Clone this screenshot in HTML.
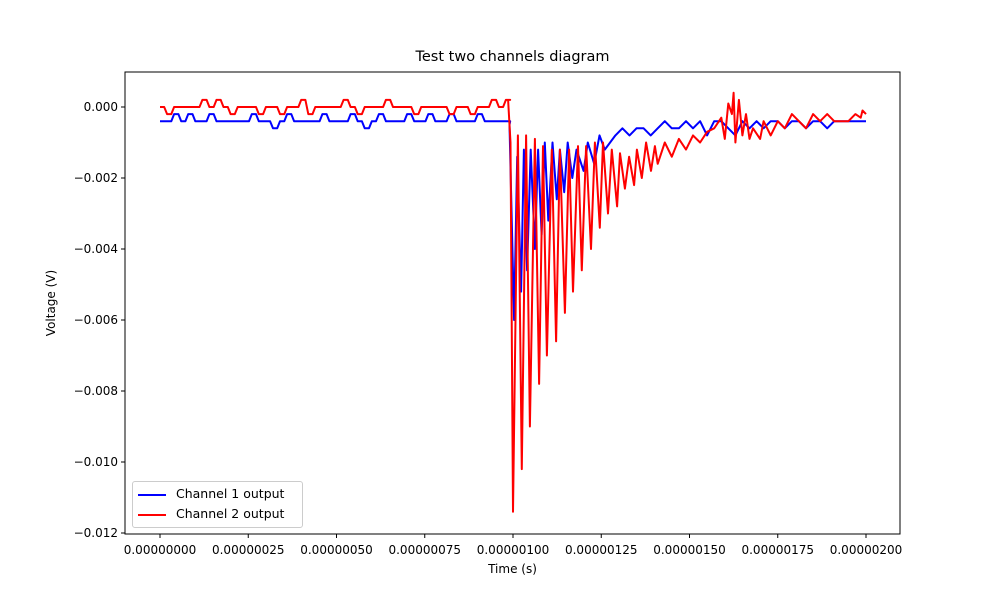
<!DOCTYPE html>
<html><head><meta charset="utf-8"><style>
body{margin:0;background:#fff;}
svg{display:block;font-family:"DejaVu Sans","Liberation Sans",sans-serif;}
</style></head><body>
<svg id="chart" width="1000" height="600"></svg>
<script>
const xTicks=[0,0.25,0.5,0.75,1.0,1.25,1.5,1.75,2.0];
const xTickLabels=["0.00000000","0.00000025","0.00000050","0.00000075","0.00000100","0.00000125","0.00000150","0.00000175","0.00000200"];
const yTicks=[0,-2,-4,-6,-8,-10,-12];
const yTickLabels=["0.000","\u22120.002","\u22120.004","\u22120.006","\u22120.008","\u22120.010","\u22120.012"];
// times in microseconds, values in millivolts
const bluePre=[-0.4,-0.4,-0.2,-0.4,-0.2,-0.4,-0.4,-0.2,-0.4,-0.4,-0.4,-0.4,-0.4,-0.2,-0.4,-0.4,-0.6,-0.4,-0.2,-0.4,-0.4,-0.4,-0.4,-0.2,-0.4,-0.4,-0.4,-0.2,-0.4,-0.6,-0.4,-0.2,-0.4,-0.4,-0.4,-0.2,-0.4,-0.4,-0.2,-0.4,-0.4,-0.2,-0.4,-0.4,-0.4,-0.2,-0.4,-0.4,-0.4,-0.4];
const redPre=[0,-0.2,0,0,0,0,0.2,0,0.2,0,-0.2,0,0,0,-0.2,0,0,-0.2,0,0,0.2,-0.2,0,0,0,0,0.2,0,-0.2,0,0,0,0.2,0,0,0,-0.2,0,0,0,0,-0.2,0,0,-0.2,0,0,0.2,0,0.2];
const blueEventT=[0.99,1.003,1.012,1.023,1.031,1.040,1.050,1.062,1.071,1.081,1.090,1.100,1.112,1.124,1.133,1.145,1.155,1.168,1.180,1.200,1.212,1.230,1.245,1.260,1.275,1.290,1.31,1.33,1.35,1.37,1.39,1.41,1.43,1.45,1.47,1.49,1.51,1.53,1.55,1.57,1.59,1.61,1.63,1.65,1.67,1.69,1.71,1.73,1.75,1.77,1.79,1.81,1.83,1.85,1.87,1.89,1.91,1.93,1.95,1.97,1.99,2.0];
const blueEventV=[-0.5,-6.0,-1.4,-5.2,-1.2,-4.6,-1.2,-4.0,-1.2,-3.6,-1.0,-3.2,-1.0,-2.6,-1.2,-2.4,-1.0,-2.0,-1.2,-1.8,-1.0,-1.6,-0.8,-1.2,-1.0,-0.8,-0.6,-0.8,-0.6,-0.6,-0.8,-0.6,-0.4,-0.6,-0.6,-0.4,-0.6,-0.4,-0.8,-0.4,-0.4,-0.6,-0.8,-0.4,-0.6,-0.4,-0.6,-0.4,-0.4,-0.6,-0.4,-0.4,-0.6,-0.4,-0.4,-0.6,-0.4,-0.4,-0.4,-0.4,-0.4,-0.4];
const redEventT=[0.986,0.993,1.0,1.014,1.025,1.037,1.048,1.062,1.074,1.085,1.096,1.110,1.122,1.133,1.147,1.159,1.170,1.184,1.195,1.207,1.221,1.232,1.246,1.255,1.269,1.280,1.295,1.303,1.317,1.329,1.343,1.351,1.365,1.377,1.391,1.402,1.41,1.43,1.45,1.47,1.49,1.51,1.53,1.55,1.57,1.59,1.60,1.61,1.62,1.625,1.63,1.64,1.65,1.66,1.67,1.68,1.70,1.71,1.73,1.75,1.77,1.79,1.81,1.83,1.85,1.87,1.89,1.91,1.93,1.95,1.97,1.985,1.99,2.0];
const redEventV=[0.2,-1.0,-11.4,-0.8,-10.2,-0.8,-9.0,-0.9,-7.8,-1.1,-7.0,-1.2,-6.6,-1.2,-5.8,-1.2,-5.2,-1.1,-4.6,-1.1,-4.0,-1.0,-3.4,-1.0,-3.0,-1.2,-2.8,-1.3,-2.3,-1.4,-2.2,-1.2,-2.0,-1.0,-1.8,-1.1,-1.6,-1.0,-1.4,-0.9,-1.2,-0.8,-1.0,-0.7,-0.6,-0.3,-0.9,0.1,-0.2,0.4,-1.0,0.2,-0.8,-0.2,-0.9,-0.6,-0.9,-0.4,-0.8,-0.4,-0.6,-0.2,-0.4,-0.6,-0.2,-0.4,-0.2,-0.4,-0.4,-0.4,-0.2,-0.3,-0.1,-0.2];

const X=t=>160+t*353;
const Y=v=>107-v*35.5;
const NS="http://www.w3.org/2000/svg";
const svg=document.getElementById('chart');
function mk(tag,attrs,parent){const e=document.createElementNS(NS,tag);for(const k in attrs)e.setAttribute(k,attrs[k]);(parent||svg).appendChild(e);return e;}

const clip=mk('clipPath',{id:'clp'});mk('rect',{x:125,y:72,width:775,height:462},clip);

function series(pre,evT,evV,color,name){
  const pts=[];
  pre.forEach((v,i)=>{
    pts.push(X(i*0.02).toFixed(1)+','+Y(v).toFixed(1));
    pts.push(X(i*0.02+0.012).toFixed(1)+','+Y(v).toFixed(1));
  });
  evT.forEach((t,i)=>pts.push(X(t).toFixed(1)+','+Y(evV[i]).toFixed(1)));
  const p=mk('polyline',{points:pts.join(' '),fill:'none',stroke:color,'stroke-width':2,'stroke-linejoin':'round','clip-path':'url(#clp)'});
  
  
}
series(bluePre,blueEventT,blueEventV,'#0000ff','channel-1-line');
series(redPre,redEventT,redEventV,'#ff0000','channel-2-line');

const frame=mk('rect',{x:125,y:72,width:775,height:462,fill:'none',stroke:'#000','stroke-width':1});



xTicks.forEach((t,i)=>{
  mk('line',{x1:X(t),x2:X(t),y1:534,y2:538,stroke:'#000'});
  const tx=mk('text',{x:X(t),y:554,'font-size':12,'text-anchor':'middle',fill:'#000'});
  tx.textContent=xTickLabels[i];
  
  
});
yTicks.forEach((v,i)=>{
  mk('line',{x1:121,x2:125,y1:Y(v),y2:Y(v),stroke:'#000'});
  const tx=mk('text',{x:118,y:Y(v)+4,'font-size':12,'text-anchor':'end',fill:'#000'});
  tx.textContent=yTickLabels[i];
  
  
});
</script>
<div style="position:absolute;left:0;top:0;width:1000px;height:600px;pointer-events:none;font-family:'DejaVu Sans','Liberation Sans',sans-serif;">
  <div style="position:absolute;left:0;width:1025px;top:49px;text-align:center;font-size:14.5px;">Test two channels diagram</div>
  <div style="position:absolute;left:0;width:1025px;top:562px;text-align:center;font-size:12px;">Time (s)</div>
  <div style="position:absolute;left:51px;top:303px;font-size:12px;transform:translate(-50%,-50%) rotate(-90deg);white-space:nowrap;">Voltage (V)</div>
  <div style="position:absolute;left:132px;top:481px;width:169px;height:45px;border:1px solid #ccc;border-radius:3px;background:#fff;font-size:12.5px;">
    <div style="position:absolute;left:5px;top:4px;white-space:nowrap;"><span style="display:inline-block;width:28px;height:2px;background:#0000ff;vertical-align:middle;margin-right:10px;"></span>Channel 1 output</div>
    <div style="position:absolute;left:5px;top:24px;white-space:nowrap;"><span style="display:inline-block;width:28px;height:2px;background:#ff0000;vertical-align:middle;margin-right:10px;"></span>Channel 2 output</div>
  </div>
</div>
</body></html>
